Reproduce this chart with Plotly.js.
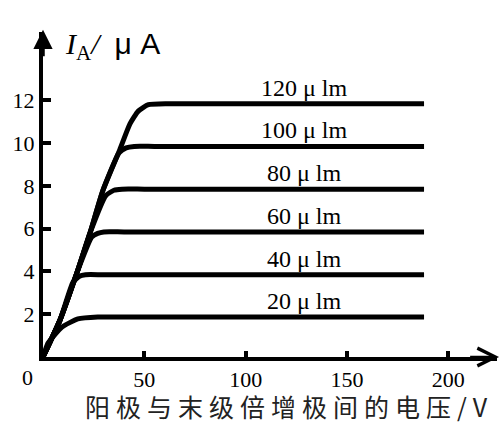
<!DOCTYPE html>
<html>
<head>
<meta charset="utf-8">
<script src="https://cdn.plot.ly/plotly-3.0.1.min.js"></script>
<style>
  html, body { margin: 0; padding: 0; background: #fff; }
  #chart { width: 504px; height: 424px; }
  g.annotation[data-index="0"] text { letter-spacing: 6px; }
</style>
</head>
<body>
<div id="chart"></div>
<script>
// anode current (uA) vs anode-to-last-dynode voltage (V)
var seriesNames = ['20 μ lm', '40 μ lm', '60 μ lm', '80 μ lm', '100 μ lm', '120 μ lm'];

var v20 = [0, 2.5, 9.4, 17.2, 27, 40, 188];
var i20 = [0, 0.65, 1.4, 1.78, 1.87, 1.87, 1.87];

var v40 = [0, 8.4, 14.8, 18, 21, 30, 188];
var i40 = [0, 1.73, 3.5, 3.78, 3.85, 3.85, 3.85];

var v60 = [0, 8.4, 16.7, 24, 27, 30, 40, 188];
var i60 = [0, 1.73, 3.93, 5.6, 5.78, 5.85, 5.85, 5.85];

var v80 = [0, 8.4, 16.7, 23.2, 31, 35, 39, 50, 188];
var i80 = [0, 1.73, 3.93, 5.8, 7.55, 7.8, 7.85, 7.85, 7.85];

var v100 = [0, 8.4, 16.7, 23.2, 29.6, 37.5, 41, 45, 55, 188];
var i100 = [0, 1.73, 3.93, 5.8, 7.8, 9.55, 9.78, 9.85, 9.85, 9.85];

var v120 = [0, 8.4, 16.7, 23.2, 29.6, 37.9, 42.9, 47, 52, 62, 188];
var i120 = [0, 1.73, 3.93, 5.8, 7.8, 9.7, 10.9, 11.5, 11.8, 11.85, 11.85];

var levels = [1.87, 3.85, 5.85, 7.85, 9.85, 11.85];

var xTicks = [50, 100, 150, 200];
var yTicks = [2, 4, 6, 8, 10, 12];

var xs = [v20, v40, v60, v80, v100, v120];
var ys = [i20, i40, i60, i80, i100, i120];

var serif = 'Liberation Serif, Times New Roman, serif';

var data = [];
for (var k = 0; k < xs.length; k++) {
    data.push({
        type: 'scatter',
        mode: 'lines',
        name: seriesNames[k],
        x: xs[k],
        y: ys[k],
        line: {color: '#000', width: 5, shape: 'spline', smoothing: 0.5},
        hoverinfo: 'skip'
    });
}

var annotations = [
    // x title
    {
        xref: 'paper', yref: 'paper', x: 0.542, y: -0.152,
        xanchor: 'center', yanchor: 'middle', showarrow: false,
        text: '阳极与末级倍增极间的电压/V',
        font: {family: 'Noto Sans CJK SC, sans-serif', size: 25, color: '#222'}
    },
    // y title
    {
        xref: 'paper', yref: 'paper', x: 0.045, y: 0.957,
        xanchor: 'left', yanchor: 'middle', showarrow: false,
        text: '<i>I</i><sub>A</sub><i>/</i>&nbsp; <span style="font-family:Liberation Sans, Arial, sans-serif">μ&nbsp;A</span>',
        font: {family: serif, size: 30, color: '#000'}
    },
    // origin label
    {
        xref: 'x', yref: 'y', x: 0, y: 0, xanchor: 'right', yanchor: 'top',
        xshift: -8, yshift: -6, showarrow: false, text: '0',
        font: {family: serif, size: 22, color: '#000'}
    },
    // axis arrows
    {
        xref: 'x', yref: 'y', axref: 'x', ayref: 'y', x: 0, y: 15.3, ax: 0, ay: 14,
        showarrow: true, arrowhead: 2, arrowsize: 1.1, arrowwidth: 3.5, arrowcolor: '#000', text: ''
    },
    {
        xref: 'x', yref: 'y', axref: 'x', ayref: 'y', x: 225, y: 0, ax: 210, ay: 0,
        showarrow: true, arrowhead: 5, arrowsize: 1.4, arrowwidth: 2.5, arrowcolor: '#000', text: ''
    }
];

for (var j = 0; j < seriesNames.length; j++) {
    annotations.push({
        xref: 'x', yref: 'y', x: 129, y: levels[j], yshift: 16,
        xanchor: 'center', yanchor: 'middle', showarrow: false,
        text: seriesNames[j],
        font: {family: serif, size: 24, color: '#000'}
    });
}

var layout = {
    width: 504,
    height: 424,
    margin: {l: 43, r: 7, t: 32, b: 67},
    paper_bgcolor: '#fff',
    plot_bgcolor: '#fff',
    showlegend: false,
    xaxis: {
        range: [0, 224],
        showgrid: false, zeroline: false,
        showline: true, linewidth: 4, linecolor: '#000',
        ticks: 'inside', ticklen: 6, tickwidth: 4, tickcolor: '#000',
        tickvals: xTicks, ticktext: xTicks.map(String),
        tickfont: {family: serif, size: 22, color: '#000'}
    },
    yaxis: {
        range: [0, 15.2],
        showgrid: false, zeroline: false,
        showline: true, linewidth: 4, linecolor: '#000',
        ticks: 'inside', ticklen: 8, tickwidth: 4, tickcolor: '#000',
        tickvals: yTicks, ticktext: yTicks.map(String),
        tickfont: {family: serif, size: 22, color: '#000'}
    },
    annotations: annotations
};

Plotly.newPlot('chart', data, layout, {staticPlot: true});
</script>
</body>
</html>
